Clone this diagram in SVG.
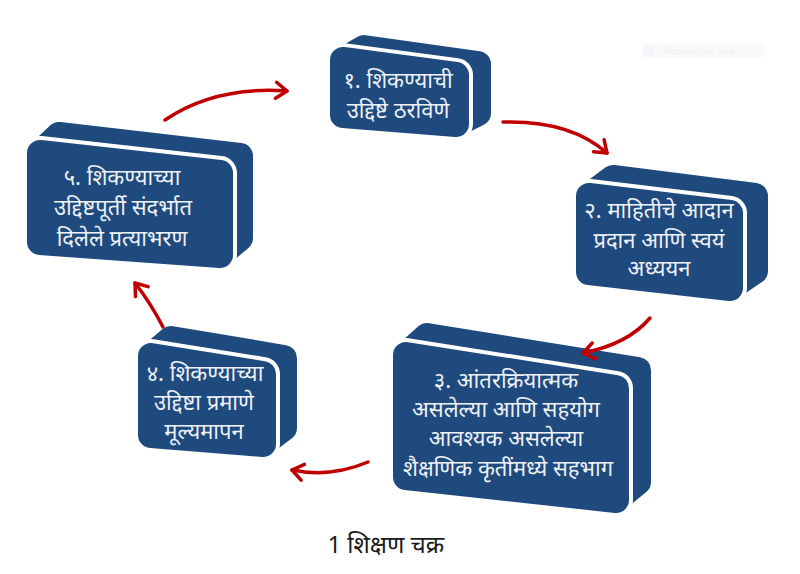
<svg xmlns="http://www.w3.org/2000/svg" width="800" height="574" viewBox="0 0 800 574">
<defs>
<style>
.hull{fill:#1F4A7E;stroke:#1F4A7E;stroke-width:26;stroke-linejoin:round}
.gap{fill:#fff;stroke:#fff;stroke-width:34;stroke-linejoin:round}
.face{fill:#1F4A7E;stroke:#1F4A7E;stroke-width:26;stroke-linejoin:round}
.t{font-family:"Noto Sans Devanagari","Nirmala UI","Mangal","Noto Sans",sans-serif;font-size:22px;fill:#EEF1F5;text-anchor:middle}
.arr{fill:none;stroke:#C00000;stroke-width:3.5;stroke-linecap:round;marker-end:url(#ah)}
.cap{font-family:"Noto Sans Devanagari","Noto Sans",sans-serif;font-size:24px;fill:#1a1a1a;text-anchor:middle}
</style>
<marker id="ah" markerUnits="userSpaceOnUse" markerWidth="30" markerHeight="30" refX="0" refY="0" viewBox="-15 -15 30 30" orient="auto">
<path d="M-11,-8 L0,0 L-11,8" fill="none" stroke="#C00000" stroke-width="3.5" stroke-linecap="round" stroke-linejoin="round"/>
</marker>
</defs>
<rect width="800" height="574" fill="#fff"/>
<g id="snip" opacity="0.6">
<rect x="642" y="43" width="123" height="15" fill="#f7f8fa"/>
<rect x="644" y="45" width="11" height="11" fill="#eef0f4"/>
<text x="665" y="54" font-family="Segoe UI,Noto Sans,sans-serif" font-size="9" fill="#e4e6ea">Rectangular Snip</text>
</g>
<g id="node1">
<polygon class="hull" points="343,60 364,48 478,64 478,113 456,124 343,115"/>
<polygon class="gap" points="343,60 456,75 456,124 343,115"/>
<polygon class="face" points="343,60 456,75 456,124 343,115"/>
<text class="t" x="398" y="88">१. शिकण्याची</text>
<text class="t" x="398" y="118">उद्दिष्टे ठरविणे</text>
</g>
<g id="node2">
<polygon class="hull" points="589,196 613,178 755,196 755,271 730,288 589,272"/>
<polygon class="gap" points="589,196 730,213 730,288 589,272"/>
<polygon class="face" points="589,196 730,213 730,288 589,272"/>
<text class="t" x="659" y="218">२. माहितीचे आदान</text>
<text class="t" x="659" y="248">प्रदान आणि स्वयं</text>
<text class="t" x="659" y="276">अध्ययन</text>
</g>
<g id="node3">
<polygon class="hull" points="406,355 427,336 638,370 638,482 616,500 406,477"/>
<polygon class="gap" points="406,355 616,388 616,500 406,477"/>
<polygon class="face" points="406,355 616,388 616,500 406,477"/>
<text class="t" x="506" y="388">३. आंतरक्रियात्मक</text>
<text class="t" x="506" y="417">असलेल्या आणि सहयोग</text>
<text class="t" x="506" y="446">आवश्यक असलेल्या</text>
<text class="t" x="508" y="476">शैक्षणिक कृतींमध्ये सहभाग</text>
</g>
<g id="node4">
<polygon class="hull" points="151,356 171,339 284,358 284,428 263,444 151,435"/>
<polygon class="gap" points="151,356 263,374 263,444 151,435"/>
<polygon class="face" points="151,356 263,374 263,444 151,435"/>
<text class="t" x="205" y="381">४. शिकण्याच्या</text>
<text class="t" x="204" y="410">उद्दिष्टा प्रमाणे</text>
<text class="t" x="204" y="439">मूल्यमापन</text>
</g>
<g id="node5">
<polygon class="hull" points="40,153 59,135 240,156 240,238 220,255 40,242"/>
<polygon class="gap" points="40,153 220,173 220,255 40,242"/>
<polygon class="face" points="40,153 220,173 220,255 40,242"/>
<text class="t" x="122" y="185">५. शिकण्याच्या</text>
<text class="t" x="123" y="215">उद्दिष्टपूर्ती संदर्भात</text>
<text class="t" x="122" y="246">दिलेले प्रत्याभरण</text>
</g>
<g id="connectors">
<path class="arr" d="M165,120 Q215,86 287,91"/>
<path class="arr" d="M503,122 Q570,120 607,153"/>
<path class="arr" d="M650,318 Q628,344 583,353"/>
<path class="arr" d="M368,462 Q330,478 292,470"/>
<path class="arr" d="M163,327 Q150,302 135,283"/>
</g>
<g id="caption">
<text class="cap" x="386" y="553">1 शिक्षण चक्र</text>
</g>
</svg>
